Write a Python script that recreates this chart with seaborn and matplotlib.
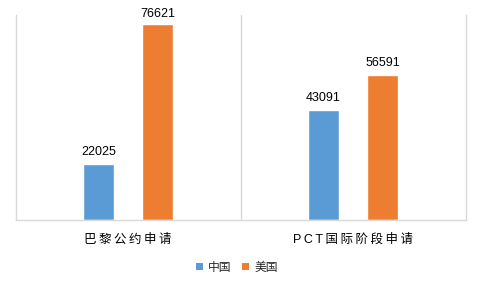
import matplotlib
matplotlib.use("Agg")
import matplotlib.pyplot as plt
import seaborn as sns
import pandas as pd
from matplotlib.patches import Patch

categories = ["巴黎公约申请", "PCT国际阶段申请"]
series_names = ["中国", "美国"]
china_values = [22025, 43091]
usa_values = [76621, 56591]
colors = ["#5B9BD5", "#ED7D31"]

df = pd.DataFrame({
    "category": categories * 2,
    "series": [series_names[0]] * 2 + [series_names[1]] * 2,
    "value": china_values + usa_values,
})

sns.set_theme(style="white")
plt.rcParams["font.family"] = ["Liberation Sans", "Noto Sans CJK SC", "DejaVu Sans"]

fig = plt.figure(figsize=(4.8, 2.88), dpi=100)
ax = fig.add_axes([15.5 / 480, 1 - 220 / 288, 450 / 480, 205 / 288])

sns.barplot(data=df, x="category", y="value", hue="series", order=categories,
            hue_order=series_names, palette=colors, width=0.524, gap=0.48,
            saturation=1, ax=ax, legend=False, errorbar=None)

ax.set_xlim(-0.5, 1.5)
ax.set_ylim(0, 80000)
ax.set_yticks([])
ax.set_xlabel("")
ax.set_ylabel("")

grid_c = "#D9D9D9"
for s in ["left", "right", "bottom"]:
    ax.spines[s].set_color(grid_c)
    ax.spines[s].set_linewidth(1)
ax.spines["top"].set_visible(False)
ax.axvline(0.5, color=grid_c, lw=1)

ax.set_xticks([0, 1])
ax.set_xticklabels(["\u2009".join(list(c)) for c in categories], fontsize=9, color="#000000")
ax.tick_params(axis="x", length=0, pad=10)

pad = 4
labels = []
for cont in ax.containers:
    labels += ax.bar_label(cont, labels=[f"{int(v)}" for v in cont.datavalues],
                           padding=pad, fontsize=9, color="#000000")

handles = [Patch(facecolor=c, edgecolor="none") for c in colors]
fig.legend(handles, series_names, loc="center", bbox_to_anchor=(237 / 480, 1 - 267.5 / 288),
           ncol=2, frameon=False, fontsize=8.5, handlelength=0.6, handleheight=0.6,
           handletextpad=0.4, columnspacing=0.9)

# keep labels inside the chart area (like the original)
fig.canvas.draw()
renderer = fig.canvas.get_renderer()
limit = 288 - 8
for t in labels:
    bb = t.get_window_extent(renderer)
    if bb.y1 > limit:
        shift = (bb.y1 - limit) * 72 / fig.dpi
        x0, y0 = t.xyann
        t.xyann = (x0, y0 - shift)

fig.savefig("out.png", dpi=100)
